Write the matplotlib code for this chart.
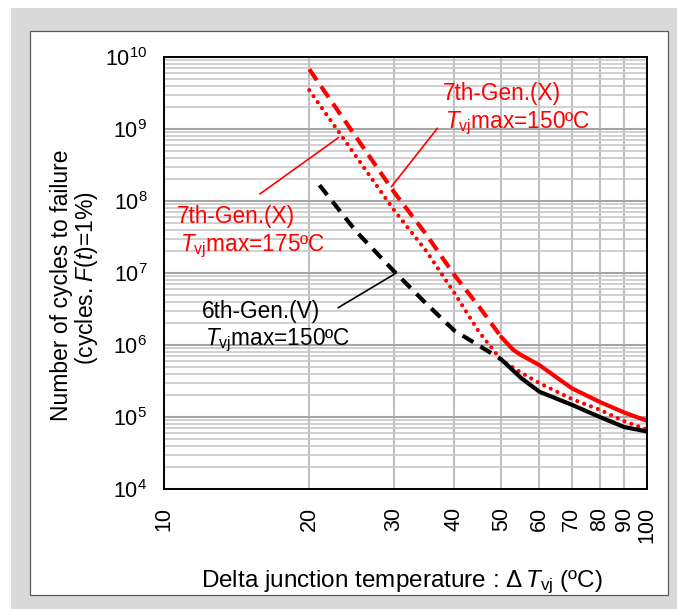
import numpy as np
import matplotlib
matplotlib.use("Agg")
import matplotlib.pyplot as plt
from matplotlib.patches import Rectangle
from matplotlib.ticker import FixedLocator, NullFormatter

# Cycles to failure (F(t)=1%)
delta_t_7x150_dash = [20, 25, 30, 35, 40, 45, 50]
cycles_7x150_dash = [6.76e9, 7.76e8, 1.32e8, 3.39e7, 9.33e6, 3.39e6, 1.29e6]
delta_t_7x150_solid = [50, 53, 55, 60, 70, 80, 90, 100]
cycles_7x150_solid = [1.29e6, 8.51e5, 7.24e5, 5.25e5, 2.51e5, 1.62e5, 1.15e5, 8.91e4]

delta_t_7x175 = [20, 25, 30, 35, 40, 45, 50, 55, 60, 70, 80, 90, 100]
cycles_7x175 = [3.47e9, 4.17e8, 7.41e7, 2.0e7, 5.25e6, 1.51e6, 6.17e5,
                4.12e5, 2.95e5, 1.78e5, 1.26e5, 8.71e4, 6.76e4]

delta_t_6v_dash = [21, 25, 30, 35, 40, 45, 50]
cycles_6v_dash = [1.66e8, 3.80e7, 1.05e7, 3.72e6, 1.58e6, 9.77e5, 6.31e5]
delta_t_6v_solid = [50, 55, 60, 70, 80, 90, 100]
cycles_6v_solid = [6.31e5, 3.47e5, 2.24e5, 1.48e5, 1.0e5, 7.24e4, 6.31e4]

x_ticks = [10, 20, 30, 40, 50, 60, 70, 80, 90, 100]
y_exponents = [4, 5, 6, 7, 8, 9, 10]

RED = "#ff0000"

plt.rcParams.update({
    "font.family": "Liberation Sans",
    "mathtext.fontset": "custom",
    "mathtext.rm": "Liberation Sans",
    "mathtext.it": "Liberation Sans:italic",
    "mathtext.bf": "Liberation Sans:bold",
})

fig = plt.figure(figsize=(6.77, 6.09), dpi=100)
fig.patch.set_facecolor("white")
# grey panel and white inner frame
fig.add_artist(Rectangle((11 / 677, 0), 1, (609 - 8) / 609, transform=fig.transFigure,
                         facecolor="#d9d9d9", edgecolor="none", zorder=-2))
fig.add_artist(Rectangle((29.5 / 677, 14 / 609), (667.7 - 29.5) / 677, (595 - 30.7) / 609,
                         transform=fig.transFigure, facecolor="white",
                         edgecolor="#595959", linewidth=0.9, zorder=-1))

ax = fig.add_axes([164 / 677, 120 / 609, 482.5 / 677, 432 / 609])
ax.set_facecolor("white")
ax.set_xscale("log")
ax.set_yscale("log")
ax.set_xlim(10, 100)
ax.set_ylim(1e4, 1e10)

ax.xaxis.set_major_locator(FixedLocator(x_ticks))
ax.xaxis.set_minor_locator(FixedLocator([]))
ax.set_xticklabels([str(v) for v in x_ticks], rotation=90, fontsize=15.5)
ax.xaxis.set_minor_formatter(NullFormatter())

ax.yaxis.set_major_locator(FixedLocator([10.0 ** e for e in y_exponents]))
ax.set_yticklabels([rf"$10^{{{e}}}$" for e in y_exponents], fontsize=15.5)
minor_y = [m * 10.0 ** e for e in y_exponents[:-1] for m in range(2, 10)]
ax.yaxis.set_minor_locator(FixedLocator(minor_y))
ax.yaxis.set_minor_formatter(NullFormatter())

ax.tick_params(axis="both", which="both", length=0)
ax.tick_params(axis="x", pad=13)
ax.tick_params(axis="y", pad=12)

ax.grid(True, axis="x", which="major", color="#bfbfbf", linewidth=1.5)
ax.grid(True, axis="y", which="major", color="#a6a6a6", linewidth=1.5)
ax.grid(True, axis="y", which="minor", color="#c8c8c8", linewidth=1.2)
ax.set_axisbelow(True)
for spine in ax.spines.values():
    spine.set_color("black")
    spine.set_linewidth(1.4)

lw = 3.0
ax.plot(delta_t_7x150_dash, cycles_7x150_dash, color=RED, linewidth=lw,
        linestyle=(0, (3.2, 1.8)), dash_capstyle="butt")
ax.plot(delta_t_7x150_solid, cycles_7x150_solid, color=RED, linewidth=lw,
        solid_capstyle="round", solid_joinstyle="round")
ax.plot(delta_t_7x175, cycles_7x175, color=RED, linewidth=lw,
        linestyle=(0, (0.01, 1.75)), dash_capstyle="round")
ax.plot(delta_t_6v_dash, cycles_6v_dash, color="black", linewidth=lw,
        linestyle=(0, (3.0, 2.0)), dash_capstyle="butt")
ax.plot(delta_t_6v_solid, cycles_6v_solid, color="black", linewidth=lw,
        solid_capstyle="round", solid_joinstyle="round")

# annotations
ann_size = 16.3
ax.text(0.578, 0.9005, "7th-Gen.(X)", color=RED, fontsize=ann_size,
        transform=ax.transAxes, va="baseline", ha="left")
ax.text(0.582, 0.835, r"$T_{\mathrm{vj}}$max=150ºC", color=RED, fontsize=ann_size,
        transform=ax.transAxes, va="baseline", ha="left")
ax.text(0.0275, 0.615, "7th-Gen.(X)", color=RED, fontsize=ann_size,
        transform=ax.transAxes, va="baseline", ha="left")
ax.text(0.033, 0.5516, r"$T_{\mathrm{vj}}$max=175ºC", color=RED, fontsize=ann_size,
        transform=ax.transAxes, va="baseline", ha="left")
ax.text(0.078, 0.395, "6th-Gen.(V)", color="black", fontsize=ann_size,
        transform=ax.transAxes, va="baseline", ha="left")
ax.text(0.085, 0.333, r"$T_{\mathrm{vj}}$max=150ºC", color="black", fontsize=ann_size,
        transform=ax.transAxes, va="baseline", ha="left")

# leader lines from labels to curves
leaders = [
    ((29.6, 1.58e8), (0.5667, 0.835), RED),
    ((23.0, 7.6e8), (0.1988, 0.683), RED),
    ((30.3, 1.0e7), (0.361, 0.4197), "black"),
]
for xy, xytext, colour in leaders:
    ax.annotate("", xy=xy, xytext=xytext, textcoords="axes fraction",
                arrowprops=dict(arrowstyle="-", color=colour, linewidth=1.2,
                                shrinkA=0, shrinkB=0))

# two-line y label, drawn as separate lines to control spacing
fig.text(62 / 677, (609 - 285.3) / 609, "Number of cycles to failure",
         rotation=90, ha="center", va="center", fontsize=16.5)
fig.text(87 / 677, (609 - 278) / 609, r"(cycles. $F$($t$)=1%)",
         rotation=90, ha="center", va="center", fontsize=16.5)
fig.text(401.5 / 677, (609 - 586.7) / 609,
         r"Delta junction temperature : $\Delta\,T_{\mathrm{vj}}$ (ºC)",
         ha="center", va="baseline", fontsize=17.5)

fig.savefig("out.png", dpi=100)
